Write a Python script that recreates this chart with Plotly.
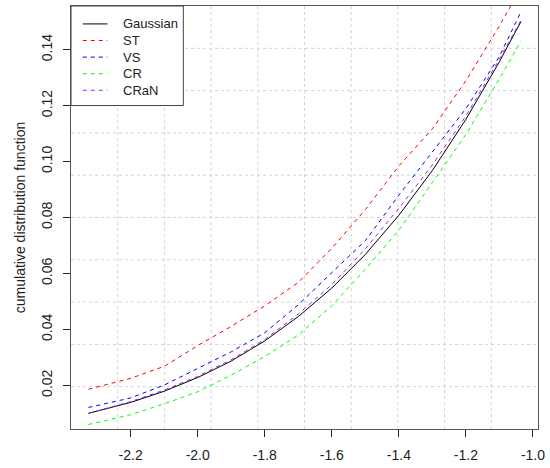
import plotly.graph_objects as go

# x positions (quantiles)
x_vals = [-2.326, -2.2, -2.1, -2.0, -1.9, -1.8, -1.7, -1.6, -1.5, -1.4, -1.3, -1.2, -1.1, -1.036]

gaussian = [0.0100, 0.0139, 0.0179, 0.0228, 0.0287, 0.0359, 0.0446, 0.0548, 0.0668, 0.0808, 0.0968, 0.1151, 0.1357, 0.1500]
st = [0.0186, 0.0225, 0.0268, 0.0342, 0.0411, 0.0484, 0.0568, 0.0690, 0.0828, 0.0984, 0.1117, 0.1289, 0.1485, 0.1620]
vs = [0.0121, 0.0155, 0.0201, 0.0259, 0.0320, 0.0388, 0.0488, 0.0603, 0.0717, 0.0880, 0.1034, 0.1189, 0.1376, 0.1535]
cr = [0.0060, 0.0095, 0.0134, 0.0177, 0.0237, 0.0303, 0.0380, 0.0485, 0.0615, 0.0755, 0.0925, 0.1097, 0.1296, 0.1430]
cran = [0.0100, 0.0142, 0.0183, 0.0232, 0.0292, 0.0364, 0.0455, 0.0560, 0.0688, 0.0833, 0.0988, 0.1163, 0.1366, 0.1505]

series_names = ["Gaussian", "ST", "VS", "CR", "CRaN"]
series_values = [gaussian, st, vs, cr, cran]
series_colors = ["#000000", "#FF0000", "#0000FF", "#00FF00", "#A020F0"]
series_dash = ["solid", "4px,4px", "4px,4px", "4px,4px", "4px,4px"]

x_tick_vals = [-2.2, -2.0, -1.8, -1.6, -1.4, -1.2, -1.0]
x_tick_text = ["-2.2", "-2.0", "-1.8", "-1.6", "-1.4", "-1.2", "-1.0"]
y_tick_vals = [0.02, 0.04, 0.06, 0.08, 0.10, 0.12, 0.14]
y_tick_text = ["0.02", "0.04", "0.06", "0.08", "0.10", "0.12", "0.14"]

FONT = "Liberation Sans, Arial, sans-serif"

fig = go.Figure()
for name, vals, col, dash in zip(series_names, series_values, series_colors, series_dash):
    fig.add_trace(go.Scatter(x=x_vals, y=vals, mode="lines", name=name, showlegend=False,
                             line=dict(color=col, width=1, dash=dash)))

# R-style grid(): 10 equal divisions of the plot region
shapes = []
for i in range(1, 10):
    f = i / 10
    shapes.append(dict(type="line", xref="paper", yref="paper", x0=f, x1=f, y0=0, y1=1,
                       line=dict(color="#d3d3d3", width=1, dash="dot"), layer="below"))
    shapes.append(dict(type="line", xref="paper", yref="paper", x0=0, x1=1, y0=f, y1=f,
                       line=dict(color="#d3d3d3", width=1, dash="dot"), layer="below"))

# R-style legend box in the top-left corner
shapes.append(dict(type="rect", xref="paper", yref="paper", x0=0, x1=0.2405, y0=0.7647, y1=1,
                   fillcolor="white", line=dict(color="#444444", width=1), layer="above"))
annotations = []
row_y0, row_step = 0.9576, 0.0392
for k, (name, col, dash) in enumerate(zip(series_names, series_colors, series_dash)):
    yy = row_y0 - k * row_step
    shapes.append(dict(type="line", xref="paper", yref="paper", x0=0.0253, x1=0.0781, y0=yy, y1=yy,
                       line=dict(color=col, width=1, dash=dash), layer="above"))
    annotations.append(dict(xref="paper", yref="paper", x=0.1076, y=yy, text=name,
                            showarrow=False, xanchor="left", yanchor="middle",
                            font=dict(family=FONT, size=13, color="#222222")))

fig.update_layout(
    width=550, height=468,
    margin=dict(l=71, r=5, t=6, b=37),
    paper_bgcolor="white", plot_bgcolor="white",
    font=dict(family=FONT, size=14, color="#222222"),
    shapes=shapes, annotations=annotations,
    showlegend=False,
    xaxis=dict(range=[-2.378, -0.985], showgrid=False, zeroline=False,
               tickmode="array", tickvals=x_tick_vals, ticktext=x_tick_text,
               ticks="outside", ticklen=7, tickcolor="#222222",
               ticklabeloverflow="allow", ticklabelstandoff=6,
               showline=True, mirror=True, linecolor="#555555", linewidth=1,
               tickfont=dict(size=14)),
    yaxis=dict(range=[0.0044, 0.1556], showgrid=False, zeroline=False,
               tickmode="array", tickvals=y_tick_vals, ticktext=y_tick_text,
               ticks="outside", ticklen=7, tickcolor="#222222", tickangle=-90,
               ticklabelstandoff=5,
               showline=True, mirror=True, linecolor="#555555", linewidth=1,
               tickfont=dict(size=14),
               title=dict(text="cumulative distribution function", font=dict(size=14), standoff=10)),
)

fig.write_html("out.html")
